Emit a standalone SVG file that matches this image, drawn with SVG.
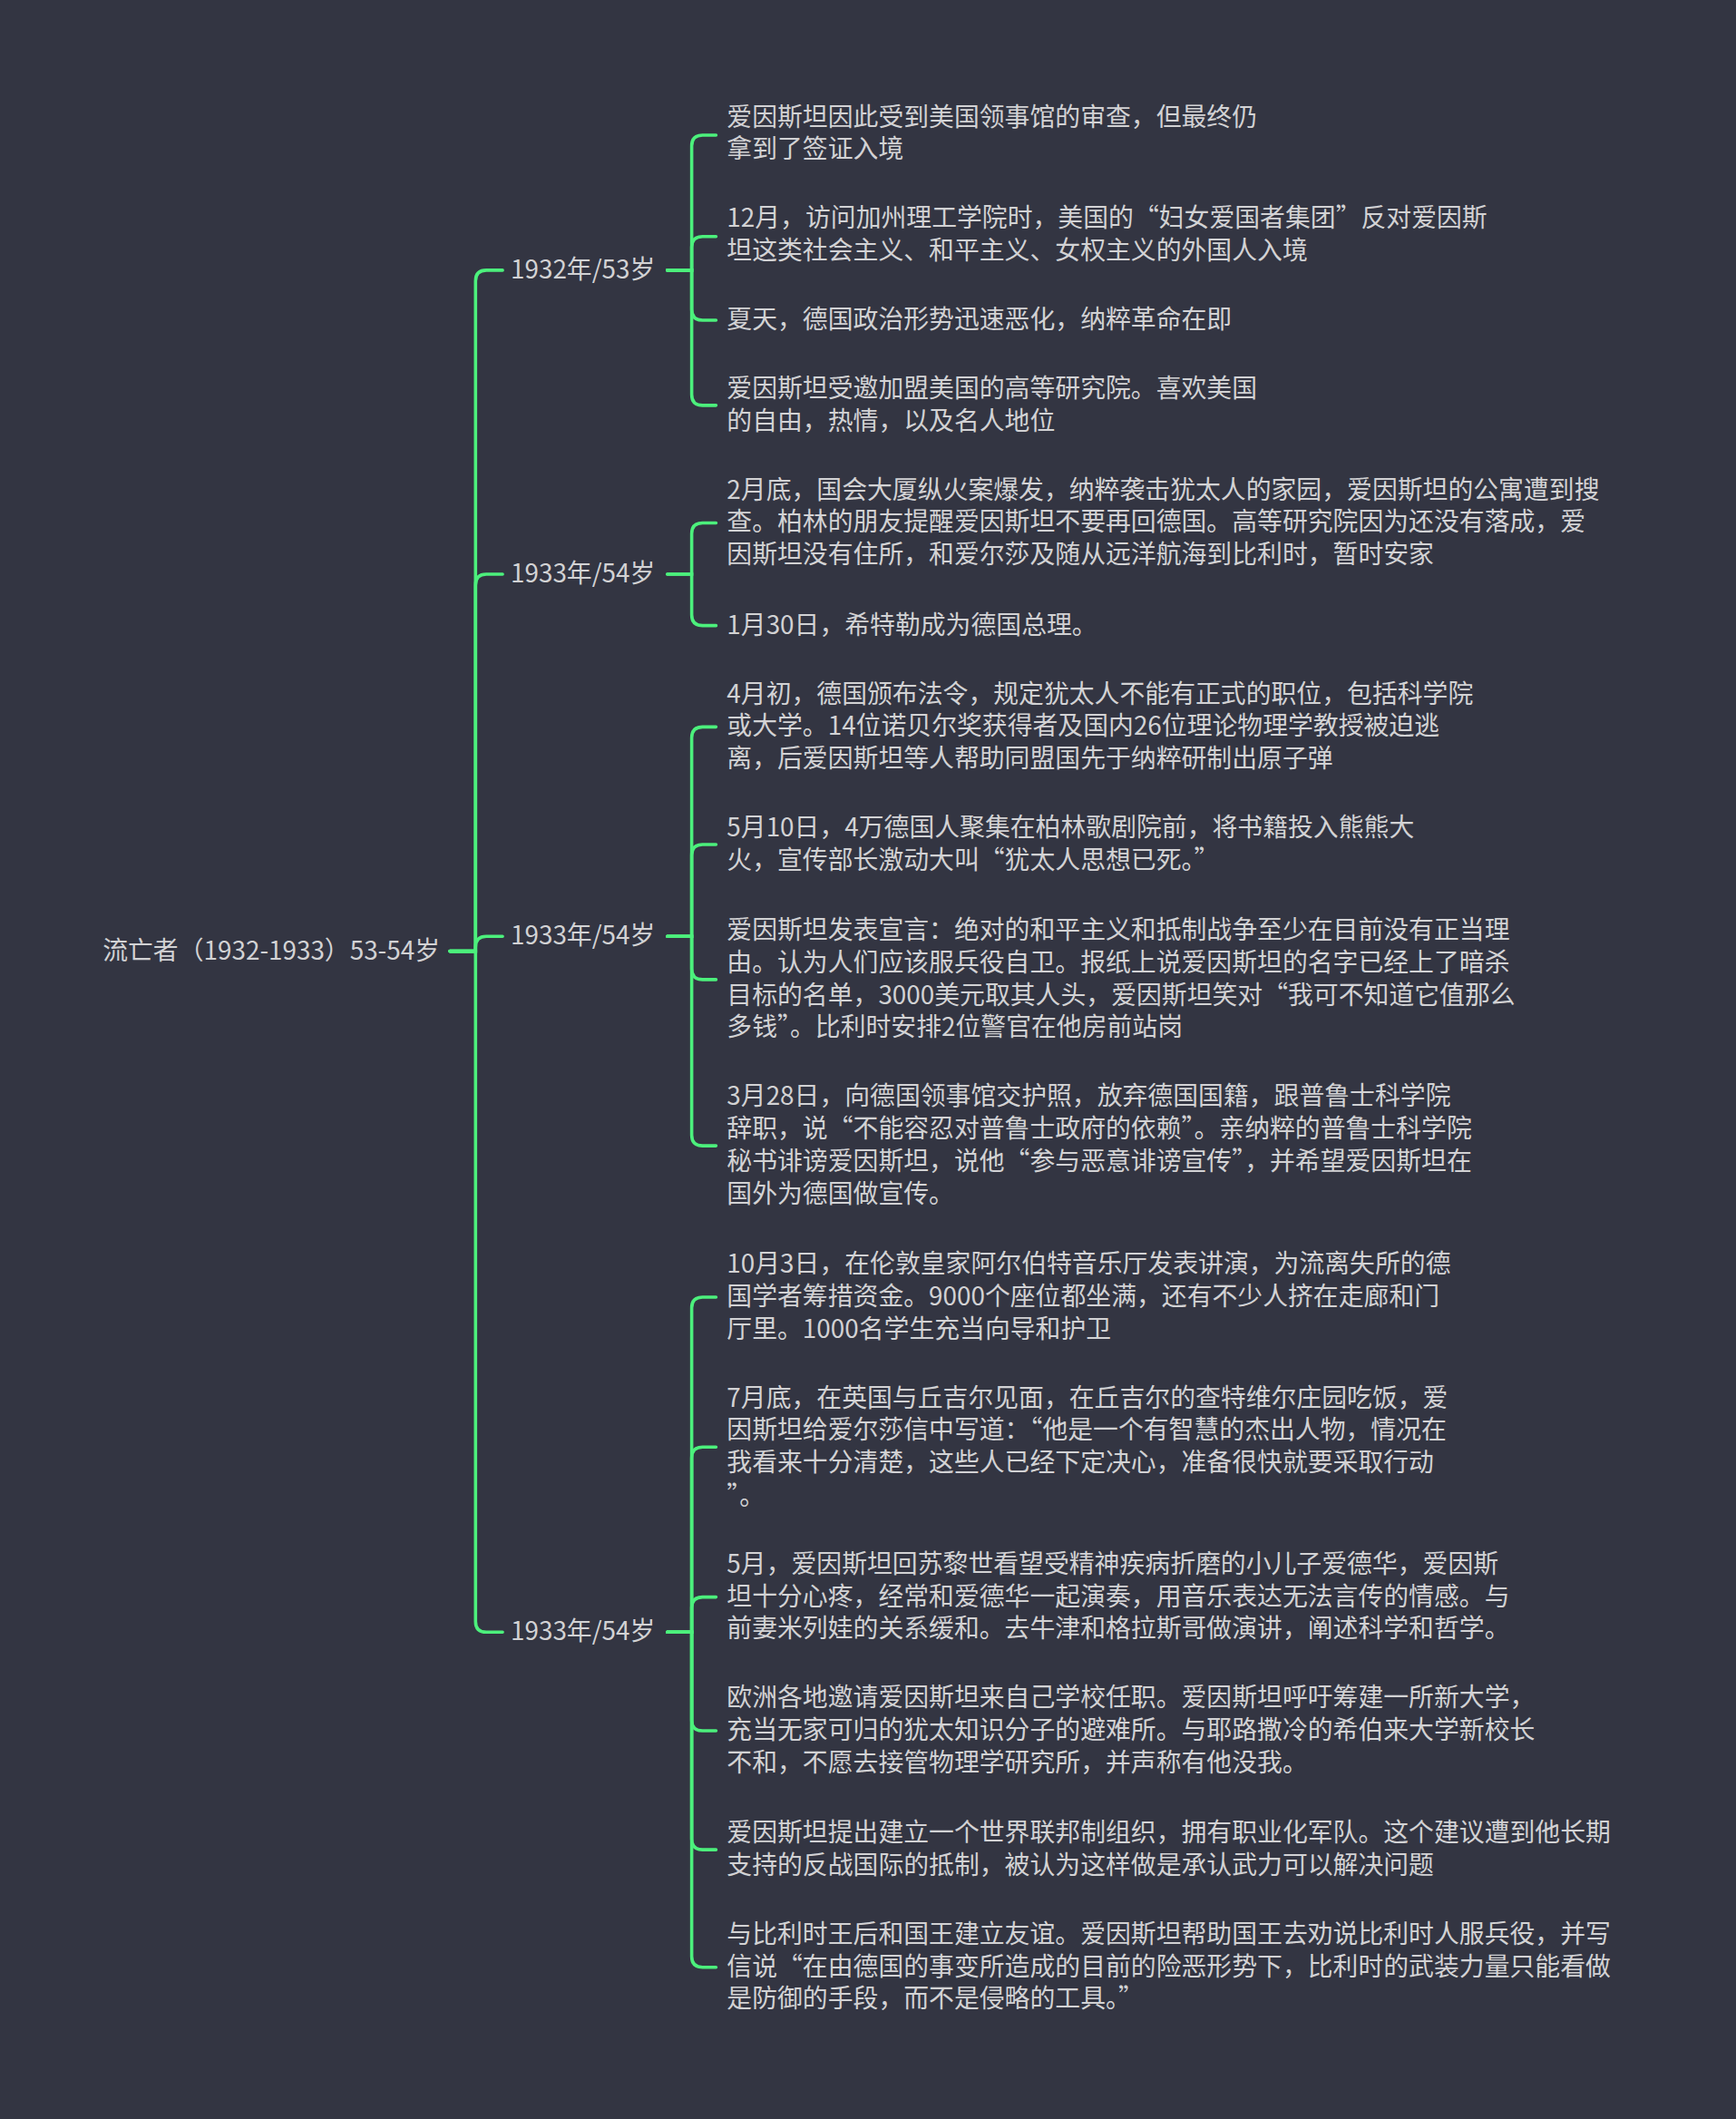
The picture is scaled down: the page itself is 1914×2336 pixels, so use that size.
<svg xmlns="http://www.w3.org/2000/svg" width="1914" height="2336" viewBox="0 0 1914 2336">
<style>
text{font-family:"Noto Sans CJK SC","Noto Sans",sans-serif;font-size:18.7px;fill:#d2d2d4}
.c path{fill:none;stroke:#4cf07c;stroke-width:2.4;stroke-linecap:round}
</style>
<rect width="1914" height="2336" fill="#333542"/>
<g transform="scale(1.4895)">
<g class="c" id="connectors">
<path d="M333,704H352V208Q352,200 360,200H372"/>
<path d="M333,704H352V433Q352,425 360,425H372"/>
<path d="M333,704H352V701Q352,693 360,693H372"/>
<path d="M333,704H352V1200Q352,1208 360,1208H372"/>
<path d="M494,200H512V108Q512,100 520,100H530"/>
<path d="M494,200H512V183Q512,175 520,175H530"/>
<path d="M494,200H512V229Q512,237 520,237H530"/>
<path d="M494,200H512V292Q512,300 520,300H530"/>
<path d="M494,425H512V395Q512,387 520,387H530"/>
<path d="M494,425H512V455Q512,463 520,463H530"/>
<path d="M494,693H512V546Q512,538 520,538H530"/>
<path d="M494,693H512V633Q512,625 520,625H530"/>
<path d="M494,693H512V717Q512,725 520,725H530"/>
<path d="M494,693H512V840Q512,848 520,848H530"/>
<path d="M494,1208H512V968Q512,960 520,960H530"/>
<path d="M494,1208H512V1079Q512,1071 520,1071H530"/>
<path d="M494,1208H512V1190Q512,1182 520,1182H530"/>
<path d="M494,1208H512V1273Q512,1281 520,1281H530"/>
<path d="M494,1208H512V1361Q512,1369 520,1369H530"/>
<path d="M494,1208H512V1448Q512,1456 520,1456H530"/>
</g>
<g id="root"><text x="76" y="710">流亡者（1932-1933）53-54岁</text></g>
<g id="y1932"><text x="378" y="206">1932年/53岁</text></g>
<g id="y1933a"><text x="378" y="431">1933年/54岁</text></g>
<g id="y1933b"><text x="378" y="699">1933年/54岁</text></g>
<g id="y1933c"><text x="378" y="1214">1933年/54岁</text></g>
<g id="l1"><text x="538" y="93">爱因斯坦因此受到美国领事馆的审查，但最终仍</text><text x="538" y="117">拿到了签证入境</text></g>
<g id="l2"><text x="538" y="168">12月，访问加州理工学院时，美国的“妇女爱国者集团”反对爱因斯</text><text x="538" y="192">坦这类社会主义、和平主义、女权主义的外国人入境</text></g>
<g id="l3"><text x="538" y="243">夏天，德国政治形势迅速恶化，纳粹革命在即</text></g>
<g id="l4"><text x="538" y="294">爱因斯坦受邀加盟美国的高等研究院。喜欢美国</text><text x="538" y="318">的自由，热情，以及名人地位</text></g>
<g id="l5"><text x="538" y="369">2月底，国会大厦纵火案爆发，纳粹袭击犹太人的家园，爱因斯坦的公寓遭到搜</text><text x="538" y="393">查。柏林的朋友提醒爱因斯坦不要再回德国。高等研究院因为还没有落成，爱</text><text x="538" y="417">因斯坦没有住所，和爱尔莎及随从远洋航海到比利时，暂时安家</text></g>
<g id="l6"><text x="538" y="469">1月30日，希特勒成为德国总理。</text></g>
<g id="l7"><text x="538" y="520">4月初，德国颁布法令，规定犹太人不能有正式的职位，包括科学院</text><text x="538" y="544">或大学。14位诺贝尔奖获得者及国内26位理论物理学教授被迫逃</text><text x="538" y="568">离，后爱因斯坦等人帮助同盟国先于纳粹研制出原子弹</text></g>
<g id="l8"><text x="538" y="619">5月10日，4万德国人聚集在柏林歌剧院前，将书籍投入熊熊大</text><text x="538" y="643">火，宣传部长激动大叫“犹太人思想已死。”</text></g>
<g id="l9"><text x="538" y="695">爱因斯坦发表宣言：绝对的和平主义和抵制战争至少在目前没有正当理</text><text x="538" y="719">由。认为人们应该服兵役自卫。报纸上说爱因斯坦的名字已经上了暗杀</text><text x="538" y="743">目标的名单，3000美元取其人头，爱因斯坦笑对“我可不知道它值那么</text><text x="538" y="767">多钱”。比利时安排2位警官在他房前站岗</text></g>
<g id="l10"><text x="538" y="818">3月28日，向德国领事馆交护照，放弃德国国籍，跟普鲁士科学院</text><text x="538" y="842">辞职，说“不能容忍对普鲁士政府的依赖”。亲纳粹的普鲁士科学院</text><text x="538" y="866">秘书诽谤爱因斯坦，说他“参与恶意诽谤宣传”，并希望爱因斯坦在</text><text x="538" y="890">国外为德国做宣传。</text></g>
<g id="l11"><text x="538" y="942">10月3日，在伦敦皇家阿尔伯特音乐厅发表讲演，为流离失所的德</text><text x="538" y="966">国学者筹措资金。9000个座位都坐满，还有不少人挤在走廊和门</text><text x="538" y="990">厅里。1000名学生充当向导和护卫</text></g>
<g id="l12"><text x="538" y="1041">7月底，在英国与丘吉尔见面，在丘吉尔的查特维尔庄园吃饭，爱</text><text x="538" y="1065">因斯坦给爱尔莎信中写道：“他是一个有智慧的杰出人物，情况在</text><text x="538" y="1089">我看来十分清楚，这些人已经下定决心，准备很快就要采取行动</text><text x="538" y="1114">”。</text></g>
<g id="l13"><text x="538" y="1164">5月，爱因斯坦回苏黎世看望受精神疾病折磨的小儿子爱德华，爱因斯</text><text x="538" y="1188">坦十分心疼，经常和爱德华一起演奏，用音乐表达无法言传的情感。与</text><text x="538" y="1212">前妻米列娃的关系缓和。去牛津和格拉斯哥做演讲，阐述科学和哲学。</text></g>
<g id="l14"><text x="538" y="1263">欧洲各地邀请爱因斯坦来自己学校任职。爱因斯坦呼吁筹建一所新大学，</text><text x="538" y="1287">充当无家可归的犹太知识分子的避难所。与耶路撒冷的希伯来大学新校长</text><text x="538" y="1311">不和，不愿去接管物理学研究所，并声称有他没我。</text></g>
<g id="l15"><text x="538" y="1363">爱因斯坦提出建立一个世界联邦制组织，拥有职业化军队。这个建议遭到他长期</text><text x="538" y="1387">支持的反战国际的抵制，被认为这样做是承认武力可以解决问题</text></g>
<g id="l16"><text x="538" y="1438">与比利时王后和国王建立友谊。爱因斯坦帮助国王去劝说比利时人服兵役，并写</text><text x="538" y="1462">信说“在由德国的事变所造成的目前的险恶形势下，比利时的武装力量只能看做</text><text x="538" y="1486">是防御的手段，而不是侵略的工具。”</text></g>
</g>
</svg>
